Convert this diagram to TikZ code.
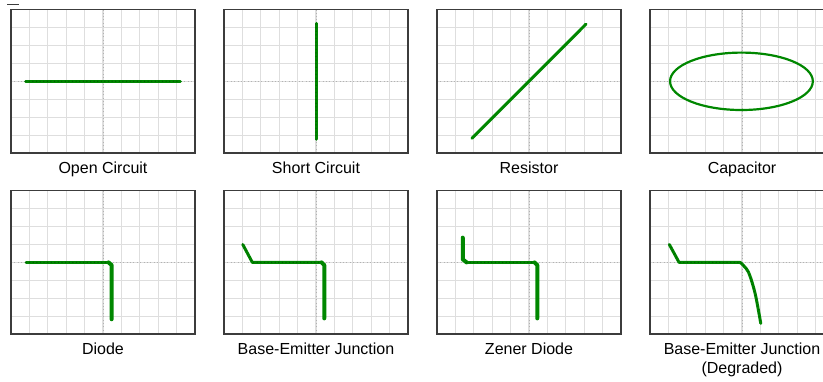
\documentclass[tikz,border=0pt]{standalone}
\usepackage{fontspec}
\setmainfont{Liberation Sans}
\definecolor{tracegreen}{RGB}{0,135,0}
\definecolor{beadgreen}{RGB}{0,95,0}
\definecolor{gridgray}{RGB}{222,222,222}
\definecolor{framegray}{RGB}{60,60,60}

\begin{document}
\begin{tikzpicture}[x=1pt,y=-1pt]

\tikzset{gridline/.style = {draw=gridgray, line width=1.1pt}}
\tikzset{axisline/.style = {draw=gray!60, line width=0.9pt, dash pattern=on 1pt off 2.4pt}}
\tikzset{frame/.style = {draw=framegray, line width=1.4pt}}
\tikzset{trace/.style = {draw=tracegreen, line width=3pt, line cap=round, line join=round}}
\tikzset{beaded/.style = {trace, postaction={draw=beadgreen, line width=1.5pt, dash pattern=on 0pt off 3.6pt}}}
\tikzset{caption/.style = {font=\fontsize{16}{18}\selectfont, anchor=base}}

\useasboundingbox (0,0) rectangle (823,381);
\clip (0,0) rectangle (823,381);
\draw[framegray, line width=0.8pt] (7,4) -- (19,4);

% top row
\begin{scope}[shift={(103,81.3)}, x=18.4pt, y=17.94pt]
\draw[gridline, step=1] (-5,-4) grid (5,4);
\draw[axisline] (-5,0) -- (5,0) (0,-4) -- (0,4);
\draw[frame] (-5,-4) rectangle (5,4);
\draw[beaded] (-4.2,0) -- (4.2,0);
\node[caption] (open) at (0,-5.12) {Open Circuit};
\end{scope}

\begin{scope}[shift={(316,81.3)}, x=18.4pt, y=17.94pt]
\draw[gridline, step=1] (-5,-4) grid (5,4);
\draw[axisline] (-5,0) -- (5,0) (0,-4) -- (0,4);
\draw[frame] (-5,-4) rectangle (5,4);
\draw[beaded] (0,-3.23) -- (0,3.23);
\node[caption] (short) at (0,-5.12) {Short Circuit};
\end{scope}

\begin{scope}[shift={(529,81.3)}, x=18.4pt, y=17.94pt]
\draw[gridline, step=1] (-5,-4) grid (5,4);
\draw[axisline] (-5,0) -- (5,0) (0,-4) -- (0,4);
\draw[frame] (-5,-4) rectangle (5,4);
\draw[trace] (-3.1,-3.18) -- (3.1,3.19);
\node[caption] (resistor) at (0,-5.12) {Resistor};
\end{scope}

\begin{scope}[shift={(742,81.3)}, x=18.4pt, y=17.94pt]
\draw[gridline, step=1] (-5,-4) grid (5,4);
\draw[axisline] (-5,0) -- (5,0) (0,-4) -- (0,4);
\draw[frame] (-5,-4) rectangle (5,4);
\draw[trace, line width=2.2pt] (-0.03,0) ellipse [x radius=3.88, y radius=1.6];
\node[caption] (capacitor) at (0,-5.12) {Capacitor};
\end{scope}

% bottom row
\begin{scope}[shift={(103,262.4)}, x=18.4pt, y=17.94pt]
\draw[gridline, step=1] (-5,-4) grid (5,4);
\draw[axisline] (-5,0) -- (5,0) (0,-4) -- (0,4);
\draw[frame] (-5,-4) rectangle (5,4);
\draw[beaded] (-4.18,0) -- (0.35,0);
\draw[trace, line width=4pt] (0.3,0) -- (0.47,-0.15) -- (0.47,-3.17);
\node[caption] (diode) at (0,-5.12) {Diode};
\end{scope}

\begin{scope}[shift={(316,262.4)}, x=18.4pt, y=17.94pt]
\draw[gridline, step=1] (-5,-4) grid (5,4);
\draw[axisline] (-5,0) -- (5,0) (0,-4) -- (0,4);
\draw[frame] (-5,-4) rectangle (5,4);
\draw[beaded] (-3.98,1) -- (-3.46,0) -- (0.35,0);
\draw[trace, line width=4pt] (0.3,0) -- (0.45,-0.15) -- (0.45,-3.12);
\node[caption] (bejunction) at (0,-5.12) {Base-Emitter Junction};
\end{scope}

\begin{scope}[shift={(529,262.4)}, x=18.4pt, y=17.94pt]
\draw[gridline, step=1] (-5,-4) grid (5,4);
\draw[axisline] (-5,0) -- (5,0) (0,-4) -- (0,4);
\draw[frame] (-5,-4) rectangle (5,4);
\draw[trace, line width=4pt] (-3.6,1.38) -- (-3.6,0.17) -- (-3.39,0);
\draw[beaded] (-3.39,0) -- (0.35,0);
\draw[trace, line width=4pt] (0.3,0) -- (0.45,-0.15) -- (0.45,-3.12);
\node[caption] (zener) at (0,-5.12) {Zener Diode};
\end{scope}

\begin{scope}[shift={(742,262.4)}, x=18.4pt, y=17.94pt]
\draw[gridline, step=1] (-5,-4) grid (5,4);
\draw[axisline] (-5,0) -- (5,0) (0,-4) -- (0,4);
\draw[frame] (-5,-4) rectangle (5,4);
\draw[beaded] (-3.95,1) -- (-3.42,0) -- (-0.1,0)
  -- plot[smooth] coordinates {(-0.1,0) (0.34,-0.52) (0.71,-1.72) (1.02,-3.4)};
\node[caption] (degraded) at (0,-5.12) {Base-Emitter Junction};
\node[caption] (degradednote) at (0,-6.2) {(Degraded)};
\end{scope}

\end{tikzpicture}
\end{document}
